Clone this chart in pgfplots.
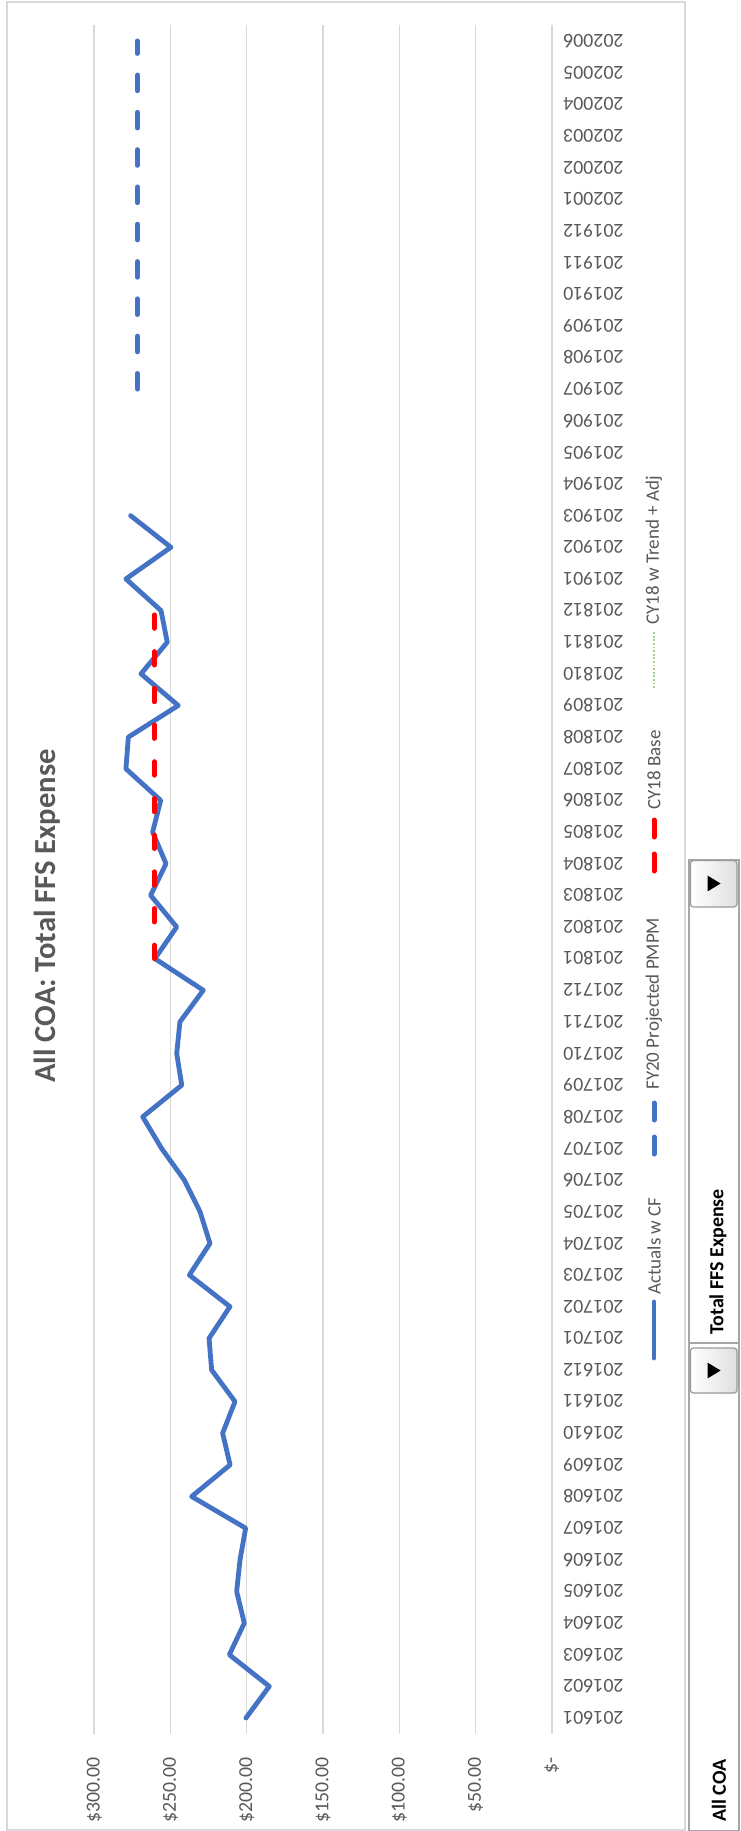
\documentclass[border=0pt]{standalone}
\usepackage{fontspec}
\setmainfont{Carlito}
\usepackage{pgfplots}
\pgfplotsset{compat=1.18}
\definecolor{actblue}{HTML}{4472C4}
\definecolor{gridgray}{HTML}{D9D9D9}
\definecolor{txtgray}{HTML}{595959}
\definecolor{trendgreen}{HTML}{A9D18E}
\definecolor{cyred}{HTML}{FF0000}
\begin{document}
\begin{tikzpicture}
\path[use as bounding box] (0pt,0pt) rectangle (370pt,-915.5pt);
\fill[white] (0pt,0pt) rectangle (370pt,-915.5pt);
\draw[gridgray, line width=0.75pt] (3.6pt,-1pt) rectangle (342.5pt,-915pt);
\begin{axis}[
  at={(47.1pt,-866.9pt)}, anchor=south west,
  scale only axis, width=228.8pt, height=854.3pt,
  xmin=0, xmax=300, ymin=-0.5, ymax=53.5,
  x dir=reverse,
  axis line style={draw=none},
  xtick={0,50,100,150,200,250,300},
  xticklabels={\$-\hspace{3pt},\$50.00,\$100.00,\$150.00,\$200.00,\$250.00,\$300.00},
  xmajorgrids, grid style={color=gridgray, line width=0.75pt},
  ytick={0,...,53},
  yticklabels={201601,201602,201603,201604,201605,201606,201607,201608,201609,201610,201611,201612,
               201701,201702,201703,201704,201705,201706,201707,201708,201709,201710,201711,201712,
               201801,201802,201803,201804,201805,201806,201807,201808,201809,201810,201811,201812,
               201901,201902,201903,201904,201905,201906,201907,201908,201909,201910,201911,201912,
               202001,202002,202003,202004,202005,202006},
  yticklabel pos=right,
  major tick length=0pt,
  x tick label style={rotate=90, anchor=east, inner sep=0pt, text=txtgray, font=\fontsize{9.9}{12}\selectfont},
  xticklabel shift=11.6pt,
  y tick label style={rotate=180, anchor=east, inner sep=0pt, text=txtgray, font=\fontsize{9.9}{12}\selectfont},
  yticklabel shift=5.6pt,
  clip=false,
]
\addplot[actblue, line width=2.4pt, line join=round, line cap=round, no markers] coordinates {
 (200.5,0) (185.2,1) (211.4,2) (201.6,3) (206.6,4) (204.4,5) (200.7,6) (236.1,7)
 (210.9,8) (215.8,9) (207.7,10) (223.0,11) (224.7,12) (211.0,13) (237.6,14) (224.1,15)
 (230.6,16) (240.9,17) (255.8,18) (268.2,19) (242.6,20) (245.9,21) (243.8,22) (228.5,23)
 (260.2,24) (245.9,25) (263.0,26) (252.9,27) (261.7,28) (256.4,29) (279.2,30) (277.6,31)
 (244.9,32) (269.3,33) (252.1,34) (256.2,35) (279.2,36) (249.7,37) (276.1,38)
};
\addplot[cyred, line width=2.5pt, line cap=round, dash pattern=on 6.7pt off 11.65pt, no markers] coordinates {
 (260.6,24) (260.6,25) (260.6,26) (260.6,27) (260.6,28) (260.6,29)
 (260.6,30) (260.6,31) (260.6,32) (260.6,33) (260.6,34) (260.6,35)
};
\addplot[actblue, line width=2.5pt, line cap=round, dash pattern=on 7.8pt off 10.85pt, no markers] coordinates {
 (271.7,42) (271.7,43) (271.7,44) (271.7,45) (271.7,46) (271.7,47)
 (271.7,48) (271.7,49) (271.7,50) (271.7,51) (271.7,52) (271.7,53)
};
\end{axis}
% title
\node[rotate=90, text=txtgray, font=\bfseries\fontsize{15.3}{18}\selectfont] at (23.4pt,-458pt) {All COA: Total FFS Expense};
% legend
\begin{scope}[font=\fontsize{9.5}{11}\selectfont]
\draw[actblue, line width=2.4pt, line cap=round] (327pt,-679pt) -- (327pt,-651pt);
\node[rotate=90, anchor=west, inner sep=0pt, text=txtgray] at (327pt,-647.5pt) {Actuals w CF};
\draw[actblue, line width=2.5pt, line cap=round, dash pattern=on 8.5pt off 8.5pt] (327pt,-577pt) -- (327pt,-550pt);
\node[rotate=90, anchor=west, inner sep=0pt, text=txtgray] at (327pt,-545pt) {FY20 Projected PMPM};
\draw[cyred, line width=2.5pt, line cap=round, dash pattern=on 8.5pt off 8.5pt] (327pt,-435.5pt) -- (327pt,-408.5pt);
\node[rotate=90, anchor=west, inner sep=0pt, text=txtgray] at (327pt,-405pt) {CY18 Base};
\draw[trendgreen, line width=0.9pt, dash pattern=on 0.9pt off 0.9pt] (327pt,-344pt) -- (327pt,-316pt);
\node[rotate=90, anchor=west, inner sep=0pt, text=txtgray] at (327pt,-312.5pt) {CY18 w Trend + Adj};
\end{scope}
% filter buttons
\draw[gray!70, line width=0.6pt] (344.5pt,-671.5pt) rectangle (369.5pt,-915.5pt);
\draw[gray!70, line width=0.6pt] (344.5pt,-430pt) rectangle (369.5pt,-671.5pt);
\draw[gray!80, line width=0.6pt, rounded corners=1.5pt, top color=white, bottom color=gray!25, shading angle=90] (345.2pt,-674pt) rectangle (368.5pt,-696.5pt);
\draw[gray!80, line width=0.6pt, rounded corners=1.5pt, top color=white, bottom color=gray!25, shading angle=90] (345.2pt,-430.3pt) rectangle (368.5pt,-453.5pt);
\fill[black] (353.8pt,-681.3pt) -- (353.8pt,-689.2pt) -- (360.3pt,-685.25pt) -- cycle;
\fill[black] (353.8pt,-437.8pt) -- (353.8pt,-445.7pt) -- (360.3pt,-441.75pt) -- cycle;
\node[rotate=90, anchor=west, inner sep=0pt, font=\bfseries\fontsize{10}{12}\selectfont] at (359.5pt,-911pt) {All COA};
\node[rotate=90, anchor=west, inner sep=0pt, font=\bfseries\fontsize{10}{12}\selectfont] at (359pt,-667.5pt) {Total FFS Expense};
\end{tikzpicture}
\end{document}
